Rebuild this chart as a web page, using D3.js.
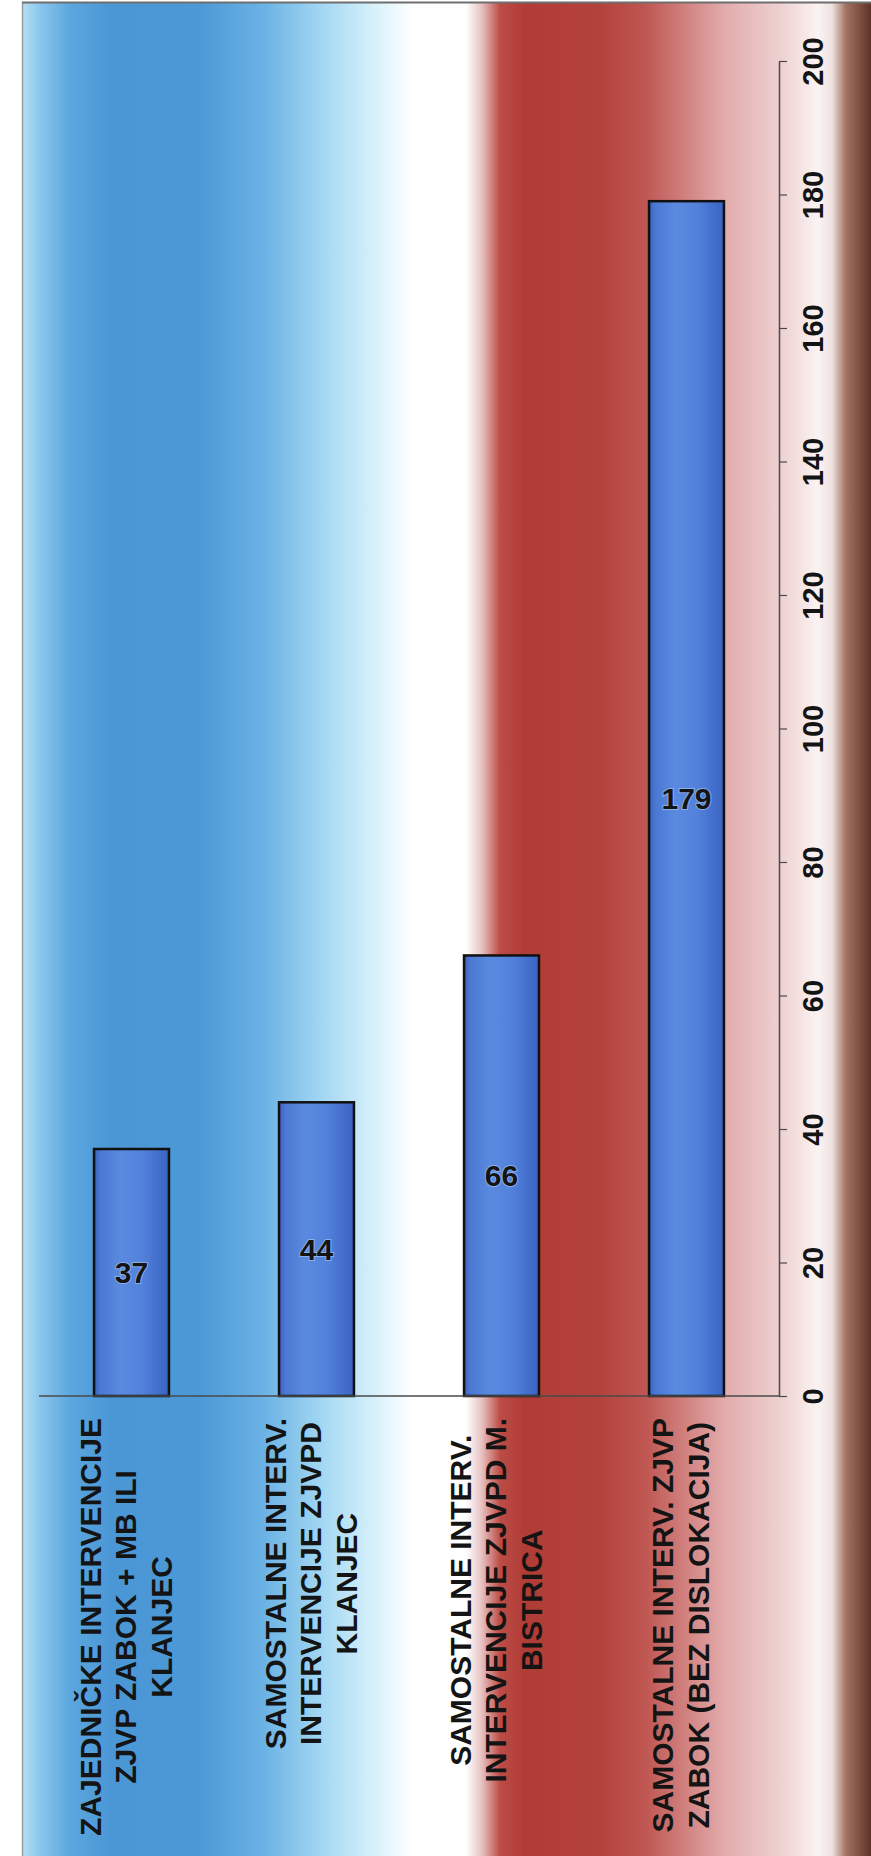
<!DOCTYPE html>
<html>
<head>
<meta charset="utf-8">
<script src="https://cdn.jsdelivr.net/npm/d3@7"></script>
<style>
    body { margin: 0; background: #fff; }
    text { font-family: "Liberation Sans", Arial, sans-serif; font-weight: bold; fill: #141414; }
</style>
</head>
<body>
<svg id="chart"></svg>
<script>
// data (picture is turned 90 degrees, labels read bottom to top)
const categories = [
    ["ZAJEDNIČKE INTERVENCIJE", "ZJVP ZABOK + MB ILI", "KLANJEC"],
    ["SAMOSTALNE INTERV.", "INTERVENCIJE ZJVPD", "KLANJEC"],
    ["SAMOSTALNE INTERV.", "INTERVENCIJE ZJVPD M.", "BISTRICA"],
    ["SAMOSTALNE INTERV. ZJVP", "ZABOK (BEZ DISLOKACIJA)"]
];
const values = [37, 44, 66, 179];
const valueTicks = [0, 20, 40, 60, 80, 100, 120, 140, 160, 180, 200];

const width = 871, height = 1856;
const plot = { left: 39, right: 779, top: 61, bottom: 1396 };

const svg = d3.select("#chart")
    .attr("width", width)
    .attr("height", height);

const defs = svg.append("defs");

// background stripes: blue -> white -> red -> pink -> brown edge
const bgStops = [
    [22, "#b6e0f5"], [40, "#8ac6ec"], [70, "#5ca7de"], [110, "#4b97d6"],
    [200, "#4c99d8"], [265, "#6cb3e5"], [325, "#a6d9f3"], [385, "#e2f5fc"],
    [412, "#ffffff"], [466, "#ffffff"], [482, "#e6c0c0"], [500, "#bd4c46"],
    [525, "#b03c36"], [600, "#b4423c"], [645, "#bf5652"], [725, "#e2acac"],
    [780, "#eed0d0"], [818, "#fbf3f3"], [832, "#efe2e0"], [846, "#a27262"],
    [871, "#5e3326"]
];
const bg = defs.append("linearGradient")
    .attr("id", "bg-grad")
    .attr("gradientUnits", "userSpaceOnUse")
    .attr("x1", 0).attr("x2", width)
    .attr("y1", 0).attr("y2", 0);
bgStops.forEach(s => {
    bg.append("stop").attr("offset", s[0] / width).attr("stop-color", s[1]);
});

const barGrad = defs.append("linearGradient")
    .attr("id", "bar-grad")
    .attr("x1", "0%").attr("x2", "100%");
[[0, "#3a60bc"], [0.08, "#4b78d2"], [0.35, "#5a8ae0"], [0.65, "#5181da"], [1, "#3a62c2"]]
    .forEach(s => barGrad.append("stop").attr("offset", s[0]).attr("stop-color", s[1]));

svg.append("rect")
    .attr("x", 22).attr("y", 2)
    .attr("width", width - 22).attr("height", height - 2)
    .attr("fill", "url(#bg-grad)");

// frame lines
svg.append("line")
    .attr("x1", 22.5).attr("x2", 22.5).attr("y1", 2).attr("y2", height)
    .attr("stroke", "#9a9a9a").attr("stroke-width", 1.5);
svg.append("line")
    .attr("x1", 22).attr("x2", width).attr("y1", 2.5).attr("y2", 2.5)
    .attr("stroke", "#6e6e6e").attr("stroke-width", 2);

// scales
const keys = categories.map(d => d.join(" "));
const x = d3.scaleBand()
    .domain(keys)
    .range([plot.left, plot.right])
    .paddingInner(0.595)
    .paddingOuter(0.2975);

const y = d3.scaleLinear()
    .domain([0, 200])
    .range([plot.bottom, plot.top]);

// bars
svg.selectAll(".bar")
    .data(values)
    .enter()
    .append("rect")
    .attr("class", "bar")
    .attr("x", (d, i) => x(keys[i]))
    .attr("y", d => y(d))
    .attr("width", x.bandwidth())
    .attr("height", d => y(0) - y(d))
    .attr("fill", "url(#bar-grad)")
    .attr("stroke", "#111")
    .attr("stroke-width", 2.5);

// value labels sit upright in the middle of each bar
svg.selectAll(".value-label")
    .data(values)
    .enter()
    .append("text")
    .attr("class", "value-label")
    .attr("x", (d, i) => x(keys[i]) + x.bandwidth() / 2)
    .attr("y", d => y(d / 2))
    .attr("dy", "0.35em")
    .attr("text-anchor", "middle")
    .style("font-size", "30px")
    .style("paint-order", "stroke")
    .style("stroke", "rgba(190,210,250,0.55)")
    .style("stroke-width", "2px")
    .text(d => d);

// value axis on the right, labels turned
const yAxis = d3.axisRight(y)
    .tickValues(valueTicks)
    .tickSizeInner(8)
    .tickSizeOuter(0);

const yAxisG = svg.append("g")
    .attr("transform", `translate(${plot.right},0)`)
    .call(yAxis);

yAxisG.select(".domain").attr("stroke", "#4a4a4a").attr("stroke-width", 1.5);
yAxisG.selectAll(".tick line").attr("stroke", "#4a4a4a").attr("stroke-width", 1.2);
yAxisG.selectAll(".tick text")
    .attr("x", 0)
    .attr("dy", "0.35em")
    .attr("text-anchor", "middle")
    .attr("transform", "translate(34,0) rotate(-90)")
    .attr("fill", "#141414")
    .style("font-size", "29px")
    .style("font-family", "'Liberation Sans', Arial, sans-serif")
    .style("font-weight", "bold");

// category baseline
svg.append("line")
    .attr("x1", plot.left).attr("x2", plot.right)
    .attr("y1", y(0)).attr("y2", y(0))
    .attr("stroke", "#4a4a4a").attr("stroke-width", 1.5);

// category labels, block starts just under the baseline
const lineStep = 35.5;
const labelGap = 22;

categories.forEach((lines, i) => {
    const cx = x(keys[i]) + x.bandwidth() / 2 - 6;
    const g = svg.append("g").attr("class", "cat-label");

    const texts = lines.map((line, j) => g.append("text")
        .attr("text-anchor", "middle")
        .attr("dy", "0.35em")
        .style("font-size", "30px")
        .text(line));

    const maxLen = d3.max(texts, t => t.node().getComputedTextLength());
    const cy = y(0) + labelGap + maxLen / 2;

    texts.forEach((t, j) => {
        const off = (j - (lines.length - 1) / 2) * lineStep;
        t.attr("transform", `translate(${cx + off},${cy}) rotate(-90)`);
    });
});
</script>
</body>
</html>
